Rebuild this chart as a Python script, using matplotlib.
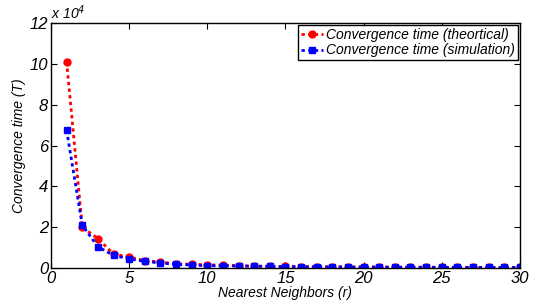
import numpy as np
import matplotlib.pyplot as plt

plt.rcParams['font.family'] = ['Liberation Sans', 'DejaVu Sans']
plt.rcParams['font.style'] = 'italic'

r = np.arange(1, 31)
t_theory = [10.1, 2.0, 1.45, 0.68, 0.55, 0.36, 0.30, 0.21, 0.19, 0.16,
            0.14, 0.12, 0.10, 0.09, 0.08, 0.075, 0.07, 0.065, 0.06, 0.055,
            0.05, 0.05, 0.045, 0.045, 0.04, 0.04, 0.035, 0.035, 0.03, 0.03]
t_sim = [6.75, 2.1, 1.05, 0.62, 0.45, 0.33, 0.25, 0.18, 0.15, 0.12,
         0.11, 0.10, 0.09, 0.08, 0.07, 0.065, 0.06, 0.055, 0.05, 0.05,
         0.045, 0.045, 0.04, 0.04, 0.035, 0.035, 0.03, 0.03, 0.03, 0.03]

fig = plt.figure(figsize=(5.37, 3.05), dpi=100)
ax = fig.add_axes([0.095, 0.121, 0.873, 0.803])

ax.plot(r, np.array(t_theory) * 1e4, color='red', ls=(0, (1.2, 1.2)), lw=2,
        marker='o', ms=5, label='Convergence time (theortical)')
ax.plot(r, np.array(t_sim) * 1e4, color='blue', ls=(0, (1.2, 1.2)), lw=2,
        marker='s', ms=5, label='Convergence time (simulation)')

ax.set_xlim(0, 30)
ax.set_ylim(0, 12e4)
ax.set_xticks([0, 5, 10, 15, 20, 25, 30])
ax.set_yticks(np.arange(0, 12.1e4, 2e4))
ax.set_yticklabels(['0', '2', '4', '6', '8', '10', '12'])
ax.tick_params(direction='in', top=True, right=True, labelsize=12, length=4, pad=2)
ax.text(0.0, 1.005, r'x 10$^{\mathit{4}}$', transform=ax.transAxes, fontsize=10,
        ha='left', va='bottom')

ax.set_xlabel('Nearest Neighbors (r)', fontsize=10, labelpad=0)
ax.set_ylabel('Convergence time (T)', fontsize=10, labelpad=3)

leg = ax.legend(loc='upper right', fontsize=10, handlelength=1.6, handletextpad=0.2,
                borderpad=0.2, labelspacing=0.1, borderaxespad=0.15, fancybox=False,
                framealpha=1)
leg.get_frame().set_edgecolor('black')

for s in ax.spines.values():
    s.set_linewidth(1)

fig.savefig('out.png', dpi=100)
